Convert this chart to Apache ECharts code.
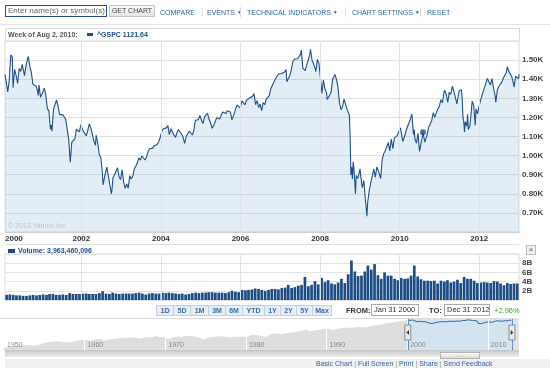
<!DOCTYPE html>
<html><head><meta charset="utf-8">
<script src="https://cdn.jsdelivr.net/npm/echarts@6/dist/echarts.min.js"></script>
<style>
html,body{margin:0;padding:0;background:#fff;}
#wrap{position:relative;width:550px;height:368px;overflow:hidden;font-family:'Liberation Sans',Arial,sans-serif;background:#fff;}
#chart{position:absolute;left:0;top:0;width:550px;height:368px;}
.a{position:absolute;white-space:nowrap;line-height:1;}
.tb{font-size:7px;color:#2b66a6;top:9px;}
.tri{font-size:5px;position:relative;top:-1px;}
.sep{position:absolute;top:7px;width:1px;height:10px;background:#d3dbe4;}
.btn{position:absolute;top:305px;height:9px;border:1px solid #c3d0df;background:#e8eef5;font-size:7px;font-weight:bold;color:#3b6ea6;text-align:center;line-height:9px;}
.box{position:absolute;border:1px solid #a9a9a9;background:#fff;font-size:7.5px;color:#333;line-height:10px;height:10px;padding-left:2px;white-space:nowrap;}
</style></head>
<body>
<div id="wrap">
<div id="chart"></div>

<div class="a" style="left:5px;top:5px;width:98px;height:10px;border:1px solid #23508a;font-size:8px;color:#666;line-height:10px;padding-left:2px;">Enter name(s) or symbol(s)</div>
<div class="a" style="left:109px;top:5px;width:44px;height:10px;border:1px solid #c6c6c6;background:linear-gradient(#fbfbfb,#e4e4e4);font-size:7px;color:#444;line-height:10px;text-align:center;">GET CHART</div>
<div class="a tb" style="left:160px;">COMPARE</div>
<div class="sep" style="left:202px;"></div>
<div class="a tb" style="left:207px;">EVENTS <span class="tri">▼</span></div>
<div class="sep" style="left:240px;"></div>
<div class="a tb" style="left:247px;">TECHNICAL INDICATORS <span class="tri">▼</span></div>
<div class="sep" style="left:345px;"></div>
<div class="a tb" style="left:352px;">CHART SETTINGS <span class="tri">▼</span></div>
<div class="sep" style="left:420px;"></div>
<div class="a tb" style="left:427px;">RESET</div>
<div class="a" style="left:0;top:24px;width:550px;height:1px;background:#e3e3e3;"></div>

<div class="a" style="left:5px;top:28px;width:513px;height:12px;border:1px solid #dcdcdc;border-bottom:none;"></div>
<div class="a" style="left:8px;top:31px;font-size:7px;font-weight:bold;color:#555;">Week of Aug 2, 2010:</div>
<div class="a" style="left:87px;top:33px;width:6px;height:3px;background:#1f4f86;"></div>
<div class="a" style="left:97px;top:31px;font-size:7px;font-weight:bold;color:#1f4f86;">^GSPC 1121.64</div>
<div class="a" style="left:8px;top:222px;font-size:7px;color:#b9c4cf;">© 2013 Yahoo! Inc.</div>

<div class="a" style="left:5px;top:244px;width:514px;height:1px;background:#e2e2e2;"></div>
<div class="a" style="left:8px;top:249px;width:7px;height:4px;background:#1f4f86;"></div>
<div class="a" style="left:18px;top:247px;font-size:7px;font-weight:bold;color:#1f4f86;">Volume: 3,963,460,096</div>
<div class="a" style="left:526px;top:245px;width:8px;height:8px;border:1px solid #bdbdbd;background:#f1f1f1;font-size:8px;color:#555;line-height:8px;text-align:center;">×</div>

<div class="btn" style="left:156px;width:16px;">1D</div>
<div class="btn" style="left:173px;width:16px;">5D</div>
<div class="btn" style="left:190px;width:17px;">1M</div>
<div class="btn" style="left:208px;width:16px;">3M</div>
<div class="btn" style="left:225px;width:16px;">6M</div>
<div class="btn" style="left:242px;width:21px;">YTD</div>
<div class="btn" style="left:264px;width:15px;">1Y</div>
<div class="btn" style="left:280px;width:15px;">2Y</div>
<div class="btn" style="left:296px;width:15px;">5Y</div>
<div class="btn" style="left:312px;width:18px;">Max</div>
<div class="a" style="left:346px;top:307px;font-size:7.5px;font-weight:bold;color:#333;">FROM:</div>
<div class="box" style="left:371px;top:304px;width:44px;">Jan 31 2000</div>
<div class="a" style="left:429px;top:307px;font-size:7.5px;font-weight:bold;color:#333;">TO:</div>
<div class="box" style="left:444px;top:304px;width:42px;">Dec 31 2012</div>
<div class="a" style="left:494px;top:307px;font-size:7.5px;color:#3a9d23;">+2.96%</div>
<div class="a" style="left:0;top:318px;width:519px;height:1px;background:#dedede;"></div>

<div class="a" style="left:5px;top:350px;width:514px;height:7px;background:linear-gradient(#c6c6c6,#ededed);"></div>
<div class="a" style="left:440px;top:352px;width:38px;height:5px;border:1px solid #b3b3b3;background:linear-gradient(#fafafa,#dadada);font-size:6px;color:#999;text-align:center;line-height:5px;">···</div>
<div class="a" style="left:5px;top:359px;width:545px;height:9px;background:#f1f1f1;"></div>
<div class="a" style="left:316px;top:360px;font-size:7px;color:#2b66a6;">Basic Chart <span style="color:#999">|</span> Full Screen <span style="color:#999">|</span> Print <span style="color:#999">|</span> Share <span style="color:#999">|</span> Send Feedback</div>
</div>

<script>
// ---------- DATA ----------
const priceSeries = [
['2000-01-31',1424],['2000-02-11',1387],['2000-02-25',1333],['2000-03-10',1395],['2000-03-24',1527],['2000-04-07',1516],['2000-04-14',1356],['2000-04-28',1452],['2000-05-12',1420],['2000-05-26',1378],['2000-06-09',1456],['2000-06-23',1441],['2000-07-07',1478],['2000-07-21',1480],['2000-07-28',1419],['2000-08-11',1471],['2000-08-25',1506],['2000-09-01',1520],['2000-09-15',1465],['2000-09-29',1436],['2000-10-13',1374],['2000-10-27',1379],['2000-11-10',1365],['2000-11-24',1341],['2000-11-30',1315],['2000-12-08',1369],['2000-12-22',1305],
['2001-01-05',1298],['2001-01-19',1342],['2001-01-26',1354],['2001-02-09',1315],['2001-02-23',1246],['2001-03-09',1234],['2001-03-23',1139],['2001-03-30',1160],['2001-04-06',1128],['2001-04-20',1242],['2001-05-04',1267],['2001-05-18',1291],['2001-06-01',1260],['2001-06-15',1214],['2001-06-29',1224],['2001-07-13',1215],['2001-07-27',1205],['2001-08-10',1190],['2001-08-24',1185],['2001-09-07',1085],['2001-09-21',966],['2001-10-05',1071],['2001-10-19',1073],['2001-11-02',1087],['2001-11-16',1138],['2001-11-30',1139],['2001-12-14',1124],['2001-12-28',1162],
['2002-01-04',1172],['2002-01-18',1127],['2002-02-01',1122],['2002-02-15',1104],['2002-03-01',1132],['2002-03-15',1166],['2002-03-28',1147],['2002-04-12',1111],['2002-04-26',1076],['2002-05-10',1054],['2002-05-17',1106],['2002-05-31',1067],['2002-06-14',1007],['2002-06-28',990],['2002-07-12',921],['2002-07-19',847],['2002-07-26',852],['2002-08-09',908],['2002-08-23',940],['2002-09-06',893],['2002-09-20',846],['2002-10-04',800],['2002-10-11',835],['2002-10-18',884],['2002-11-01',900],['2002-11-15',910],['2002-11-29',936],['2002-12-13',889],['2002-12-27',875],
['2003-01-10',927],['2003-01-24',861],['2003-02-07',829],['2003-02-21',851],['2003-03-07',829],['2003-03-14',834],['2003-03-21',895],['2003-04-04',878],['2003-04-18',893],['2003-05-02',930],['2003-05-16',946],['2003-05-30',964],['2003-06-13',988],['2003-06-27',976],['2003-07-11',998],['2003-07-25',998],['2003-08-08',977],['2003-08-22',993],['2003-09-05',1021],['2003-09-19',1036],['2003-10-03',1029],['2003-10-17',1039],['2003-10-31',1051],['2003-11-14',1050],['2003-11-28',1058],['2003-12-12',1074],['2003-12-26',1095],
['2004-01-09',1127],['2004-01-23',1141],['2004-02-06',1142],['2004-02-20',1145],['2004-03-05',1157],['2004-03-19',1110],['2004-04-02',1141],['2004-04-16',1135],['2004-04-30',1107],['2004-05-14',1095],['2004-05-28',1121],['2004-06-11',1137],['2004-06-25',1135],['2004-07-09',1112],['2004-07-23',1096],['2004-08-06',1064],['2004-08-20',1099],['2004-09-03',1114],['2004-09-17',1128],['2004-10-01',1131],['2004-10-15',1108],['2004-10-29',1130],['2004-11-12',1184],['2004-11-26',1182],['2004-12-10',1189],['2004-12-24',1210],
['2005-01-07',1186],['2005-01-21',1168],['2005-02-04',1203],['2005-02-18',1201],['2005-03-04',1222],['2005-03-18',1190],['2005-04-01',1172],['2005-04-15',1143],['2005-04-29',1157],['2005-05-13',1154],['2005-05-27',1198],['2005-06-10',1201],['2005-06-24',1191],['2005-07-08',1212],['2005-07-22',1228],['2005-08-05',1226],['2005-08-19',1220],['2005-09-02',1235],['2005-09-16',1238],['2005-09-30',1228],['2005-10-14',1187],['2005-10-21',1179],['2005-11-04',1220],['2005-11-18',1248],['2005-12-02',1265],['2005-12-16',1267],['2005-12-30',1248],
['2006-01-13',1287],['2006-01-27',1284],['2006-02-10',1266],['2006-02-24',1289],['2006-03-10',1282],['2006-03-24',1302],['2006-04-07',1295],['2006-04-21',1311],['2006-05-05',1325],['2006-05-19',1267],['2006-06-02',1288],['2006-06-16',1252],['2006-06-30',1270],['2006-07-14',1236],['2006-07-28',1278],['2006-08-11',1266],['2006-08-25',1296],['2006-09-08',1299],['2006-09-22',1314],['2006-10-06',1350],['2006-10-20',1368],['2006-11-03',1364],['2006-11-17',1401],['2006-12-01',1397],['2006-12-15',1427],['2006-12-29',1418],
['2007-01-12',1430],['2007-01-26',1422],['2007-02-09',1438],['2007-02-23',1451],['2007-03-02',1387],['2007-03-16',1386],['2007-03-30',1421],['2007-04-13',1452],['2007-04-27',1494],['2007-05-11',1505],['2007-05-25',1515],['2007-06-08',1507],['2007-06-22',1503],['2007-07-06',1531],['2007-07-13',1553],['2007-07-27',1458],['2007-08-10',1453],['2007-08-17',1445],['2007-08-31',1474],['2007-09-14',1484],['2007-09-28',1527],['2007-10-05',1557],['2007-10-19',1501],['2007-11-02',1510],['2007-11-16',1458],['2007-11-23',1440],['2007-12-07',1504],['2007-12-21',1484],
['2008-01-04',1411],['2008-01-18',1325],['2008-02-01',1395],['2008-02-15',1349],['2008-02-29',1331],['2008-03-07',1294],['2008-03-14',1288],['2008-03-28',1316],['2008-04-11',1332],['2008-04-25',1398],['2008-05-09',1388],['2008-05-16',1425],['2008-05-30',1400],['2008-06-13',1360],['2008-06-27',1278],['2008-07-11',1240],['2008-07-25',1257],['2008-08-08',1296],['2008-08-22',1292],['2008-09-05',1242],['2008-09-12',1252],['2008-09-26',1213],['2008-10-03',1099],['2008-10-10',899],['2008-10-17',940],['2008-10-24',877],['2008-10-31',968],['2008-11-07',930],['2008-11-21',800],['2008-11-28',896],['2008-12-12',880],['2008-12-26',873],
['2009-01-02',931],['2009-01-09',890],['2009-01-23',832],['2009-02-06',869],['2009-02-20',770],['2009-03-06',683],['2009-03-13',756],['2009-03-27',816],['2009-04-10',857],['2009-04-24',866],['2009-05-08',929],['2009-05-22',887],['2009-06-05',940],['2009-06-19',921],['2009-07-02',896],['2009-07-10',879],['2009-07-24',979],['2009-08-07',1010],['2009-08-21',1026],['2009-09-04',1016],['2009-09-18',1068],['2009-10-02',1025],['2009-10-16',1087],['2009-10-30',1036],['2009-11-13',1093],['2009-11-27',1091],['2009-12-11',1106],['2009-12-24',1126],
['2010-01-08',1145],['2010-01-15',1136],['2010-01-29',1074],['2010-02-05',1066],['2010-02-19',1109],['2010-03-05',1139],['2010-03-19',1160],['2010-04-02',1179],['2010-04-23',1217],['2010-05-07',1111],['2010-05-14',1136],['2010-05-21',1087],['2010-06-04',1065],['2010-06-18',1117],['2010-07-02',1022],['2010-07-16',1065],['2010-07-30',1102],['2010-08-02',1121.64],['2010-08-20',1071],['2010-08-27',1065],['2010-09-10',1110],['2010-09-24',1149],['2010-10-08',1166],['2010-10-22',1184],['2010-11-05',1225],['2010-11-19',1200],['2010-12-03',1225],['2010-12-17',1244],['2010-12-31',1258],
['2011-01-14',1293],['2011-01-28',1276],['2011-02-11',1329],['2011-02-18',1343],['2011-03-04',1321],['2011-03-18',1279],['2011-04-01',1332],['2011-04-15',1320],['2011-04-29',1364],['2011-05-13',1338],['2011-05-27',1331],['2011-06-10',1271],['2011-06-17',1272],['2011-07-01',1340],['2011-07-08',1344],['2011-07-22',1345],['2011-07-29',1292],['2011-08-05',1199],['2011-08-12',1179],['2011-08-19',1124],['2011-08-26',1177],['2011-09-09',1154],['2011-09-16',1216],['2011-09-23',1136],['2011-09-30',1131],['2011-10-07',1155],['2011-10-21',1238],['2011-10-28',1285],['2011-11-11',1264],['2011-11-25',1159],['2011-12-02',1244],['2011-12-16',1219],['2011-12-30',1258],
['2012-01-13',1289],['2012-01-27',1316],['2012-02-10',1343],['2012-02-24',1366],['2012-03-09',1371],['2012-03-16',1404],['2012-03-30',1408],['2012-04-13',1370],['2012-04-27',1403],['2012-05-11',1353],['2012-05-25',1318],['2012-06-01',1278],['2012-06-15',1343],['2012-06-29',1362],['2012-07-13',1357],['2012-07-27',1386],['2012-08-10',1406],['2012-08-24',1411],['2012-09-07',1438],['2012-09-14',1466],['2012-09-28',1441],['2012-10-12',1428],['2012-10-26',1412],['2012-11-09',1380],['2012-11-16',1359],['2012-11-30',1416],['2012-12-14',1413],['2012-12-28',1402],['2012-12-31',1426]
];
const markerDate = '2010-08-02';
const markerValue = 1121.64;

// average daily volume per month, billions, Jan 2000 .. Dec 2012
const volumeStartYear = 2000;
const volumeMonthly = [
1.0,1.1,1.2,1.1,1.0,1.0,0.9,0.9,1.0,1.1,1.0,1.1,
1.2,1.1,1.3,1.3,1.1,1.1,1.2,1.1,1.5,1.3,1.3,1.3,
1.4,1.4,1.3,1.3,1.3,1.5,1.9,1.4,1.3,1.6,1.4,1.3,
1.4,1.4,1.4,1.4,1.5,1.6,1.4,1.2,1.4,1.5,1.4,1.4,
1.6,1.5,1.6,1.5,1.4,1.3,1.4,1.2,1.3,1.5,1.6,1.5,
1.6,1.6,1.7,1.7,1.6,1.6,1.6,1.5,1.7,2.0,1.8,1.7,
2.2,2.1,2.2,2.3,2.5,2.4,2.2,2.0,2.2,2.4,2.4,2.3,
2.6,2.7,3.3,2.6,2.8,3.1,3.3,5.0,3.0,3.3,4.1,3.4,
4.8,3.9,4.3,3.6,3.4,3.8,4.6,3.7,5.6,8.6,6.2,5.2,
5.3,6.2,7.5,6.6,7.8,5.4,4.6,6.0,5.3,5.3,4.6,4.3,
4.8,4.6,4.7,5.3,7.5,5.1,4.5,4.2,4.2,4.1,4.2,3.6,
4.2,4.0,4.3,3.8,4.0,4.4,3.7,5.0,4.6,4.6,4.2,3.7,
3.8,3.9,3.8,3.7,4.1,4.0,3.6,3.2,3.7,3.5,3.6,3.6
];

const navHistory = [
['1950-01-03',17],['1950-07-01',18],['1951-01-01',21],['1951-07-01',22],['1952-01-01',24],['1952-07-01',25],['1953-01-01',26],['1953-09-01',23],['1954-01-01',25],['1954-07-01',30],['1955-01-01',36],['1955-07-01',43],['1956-01-01',45],['1956-07-01',49],['1957-01-01',45],['1957-10-01',40],['1958-01-01',41],['1958-07-01',45],['1959-01-01',55],['1959-07-01',60],['1960-01-01',58],['1960-10-01',53],['1961-01-01',58],['1961-12-01',72],['1962-06-01',55],['1963-01-01',63],['1963-07-01',69],['1964-01-01',76],['1964-07-01',83],['1965-01-01',87],['1965-07-01',85],['1966-01-01',92],['1966-10-01',74],['1967-01-01',80],['1967-09-01',97],['1968-03-01',89],['1968-11-01',108],['1969-06-01',98],['1970-01-01',92],['1970-05-01',70],['1971-01-01',92],['1971-05-01',104],['1972-01-01',102],['1972-12-01',118],['1973-07-01',108],['1974-01-01',97],['1974-10-01',63],['1975-06-01',92],['1976-01-01',96],['1976-09-01',107],['1977-06-01',100],['1978-03-01',87],['1978-09-01',103],['1979-03-01',100],['1979-10-01',101],['1980-03-01',102],['1980-11-01',140],['1981-06-01',131],['1981-09-01',116],['1982-08-01',102],['1982-12-01',140],['1983-06-01',168],['1984-01-01',163],['1984-07-01',150],['1985-01-01',179],['1985-07-01',191],['1986-01-01',211],['1986-07-01',236],['1987-01-01',274],['1987-08-01',330],['1987-11-01',245],['1988-06-01',273],['1989-01-01',297],['1989-09-01',349],['1990-06-01',358],['1990-10-01',304],['1991-06-01',371],['1992-01-01',408],['1992-07-01',424],['1993-01-01',438],['1993-07-01',448],['1994-01-01',481],['1994-07-01',458],['1995-01-01',470],['1995-07-01',562],['1996-01-01',636],['1996-07-01',639],['1997-01-01',786],['1997-07-01',954],['1998-01-01',980],['1998-07-01',1120],['1998-10-01',1098],['1999-01-01',1279],['1999-07-01',1328],['1999-12-31',1469]
];

const priceRange = ['2000-01-31','2012-12-31'];
const priceYearTicks = ['2000-01-31','2002-01-01','2004-01-01','2006-01-01','2008-01-01','2010-01-01','2012-01-01'];
const navRange = ['1950-01-01','2013-01-01'];
const navDecadeTicks = ['1950-01-01','1960-01-01','1970-01-01','1980-01-01','1990-01-01','2000-01-01','2010-01-01'];
const priceYMin = 600, priceYMax = 1600, priceYStep = 100;
const volYMax = 10, volYStep = 2; // billions

// ---------- CHART ----------
function ts(s){const p=s.split('-').map(Number);return new Date(p[0],p[1]-1,p[2]).getTime();}
const yearFmt = v => String(new Date(v).getFullYear());
const FONT = "'Liberation Sans', Arial, sans-serif";
const priceData = priceSeries.map(d=>[ts(d[0]), d[1]]);
const volData = volumeMonthly
  .map((v,i)=>[new Date(volumeStartYear+Math.floor(i/12), i%12, 15).getTime(), v*1e9])
  .filter(d=>d[0] >= ts(priceRange[0]) - 12*864e5 && d[0] <= ts(priceRange[1]));
const navData = navHistory.map(d=>[ts(d[0]), d[1]]);
const gridYearLines = priceYearTicks.slice(1).map(d=>({xAxis: ts(d)}));
const vline = (data,color) => ({silent:true, symbol:['none','none'], label:{show:false}, animation:false, lineStyle:{color:color,width:1,type:'solid'}, emphasis:{disabled:true}, data:data});

const chart = echarts.init(document.getElementById('chart'), null, {renderer:'canvas'});
const option = {
  animation:false,
  textStyle:{fontFamily:FONT},
  grid:[
    {left:5,right:31,top:41,bottom:136,show:true,borderColor:'#d9d9d9',borderWidth:1,backgroundColor:'#fff',outerBoundsMode:'none'},
    {left:5,right:31,top:254,bottom:68,show:true,borderColor:'#dcdcdc',borderWidth:1,outerBoundsMode:'none'},
    {left:4,right:38,top:318,bottom:18,outerBoundsMode:'none'}
  ],
  xAxis:[
    {type:'value',gridIndex:0,min:ts(priceRange[0]),max:ts(priceRange[1]),
     axisLine:{show:true,lineStyle:{color:'#cfcfcf'}},axisTick:{show:false},splitLine:{show:false},
     axisLabel:{customValues:priceYearTicks.map(ts),formatter:yearFmt,fontSize:8,fontWeight:'bold',color:'#333',margin:3,alignMinLabel:'left',hideOverlap:false}},
    {type:'value',gridIndex:1,min:ts(priceRange[0]),max:ts(priceRange[1]),
     axisLine:{show:false},axisTick:{show:false},splitLine:{show:false},axisLabel:{show:false}},
    {type:'value',gridIndex:2,min:ts(navRange[0]),max:ts(navRange[1]),z:10,
     axisLine:{show:false},axisTick:{show:false},splitLine:{show:false},
     axisLabel:{inside:true,customValues:navDecadeTicks.map(ts),formatter:yearFmt,align:'left',padding:[0,0,0,3],color:'#8a8a8a',fontSize:7,margin:1,hideOverlap:false}}
  ],
  yAxis:[
    {type:'value',gridIndex:0,position:'right',min:priceYMin,max:priceYMax,interval:priceYStep,
     axisLine:{show:false},axisTick:{show:false},splitLine:{lineStyle:{color:'#e0e0e0'}},
     axisLabel:{formatter:v=>(v/1000).toFixed(2)+'K',fontSize:8,fontWeight:'bold',color:'#444',margin:3,showMinLabel:false,showMaxLabel:false}},
    {type:'value',gridIndex:1,position:'right',min:0,max:volYMax*1e9,interval:volYStep*1e9,
     axisLine:{show:false},axisTick:{show:false},splitLine:{lineStyle:{color:'#e4e4e4'}},
     axisLabel:{formatter:v=>(v/1e9)+'B',fontSize:8,fontWeight:'bold',color:'#444',margin:3,showMinLabel:false,showMaxLabel:false}},
    {type:'log',gridIndex:2,min:11.7,max:2090,show:false,splitLine:{show:false}}
  ],
  series:[
    {type:'line',xAxisIndex:0,yAxisIndex:0,data:[],z:1,markLine:vline(gridYearLines,'#dfe3e8')},
    {type:'line',xAxisIndex:0,yAxisIndex:0,data:priceData,z:2,symbol:'none',silent:true,
     lineStyle:{color:'#1f5089',width:1.1},areaStyle:{color:'rgba(118,168,212,0.3)',origin:'start'}},
    {type:'scatter',xAxisIndex:0,yAxisIndex:0,data:[[ts(markerDate),markerValue]],z:5,symbolSize:6,itemStyle:{color:'#1f4f86'},silent:true},
    {type:'line',xAxisIndex:1,yAxisIndex:1,data:[],z:1,markLine:vline(gridYearLines,'#dfe3e8')},
    {type:'bar',xAxisIndex:1,yAxisIndex:1,data:volData,barWidth:2.7,z:2,itemStyle:{color:'#1d4c84'},silent:true},
    {type:'line',xAxisIndex:2,yAxisIndex:2,data:[],z:1,
     markArea:{silent:true,itemStyle:{color:'#d4e3f0'},data:[[{xAxis:ts(priceRange[0])},{xAxis:ts(priceRange[1])}]]},
     markLine:vline([{xAxis:ts(priceRange[0])},{xAxis:ts(priceRange[1])}],'#5b93cf')},
    {type:'line',xAxisIndex:2,yAxisIndex:2,data:navData,z:2,symbol:'none',silent:true,
     lineStyle:{width:0,color:'#dedede'},areaStyle:{color:'#dedede',opacity:1,origin:'start'}},
    {type:'line',xAxisIndex:2,yAxisIndex:2,data:priceData,z:3,symbol:'none',silent:true,
     lineStyle:{color:'#3568a0',width:1}},
    {type:'line',xAxisIndex:2,yAxisIndex:2,data:[],z:4,
     markLine:vline(navDecadeTicks.slice(1,5).concat(navDecadeTicks.slice(6)).map(d=>({xAxis:ts(d)})),'#ffffff')}
  ]
};
chart.setOption(option);

// navigator handles at the selection edges
const x0 = chart.convertToPixel({xAxisIndex:2}, ts(priceRange[0]));
const x1 = chart.convertToPixel({xAxisIndex:2}, ts(priceRange[1]));
const handle = (x, dir) => ([
  {type:'rect',shape:{x:x-3,y:325,width:6,height:15},style:{fill:'#e9e9e9',stroke:'#8c8c8c',lineWidth:1},z:20},
  {type:'polygon',shape:{points: dir<0 ? [[x+1.2,330],[x+1.2,335],[x-1.3,332.5]] : [[x-1.2,330],[x-1.2,335],[x+1.3,332.5]]},style:{fill:'#333'},z:21}
]);
chart.setOption({graphic:[
  {type:'rect',shape:{x:x1,y:318,width:519-x1,height:32},style:{fill:'#e4e4e4'},z:-1}
].concat(handle(x0,-1), handle(x1,1))});
</script>
</body></html>
